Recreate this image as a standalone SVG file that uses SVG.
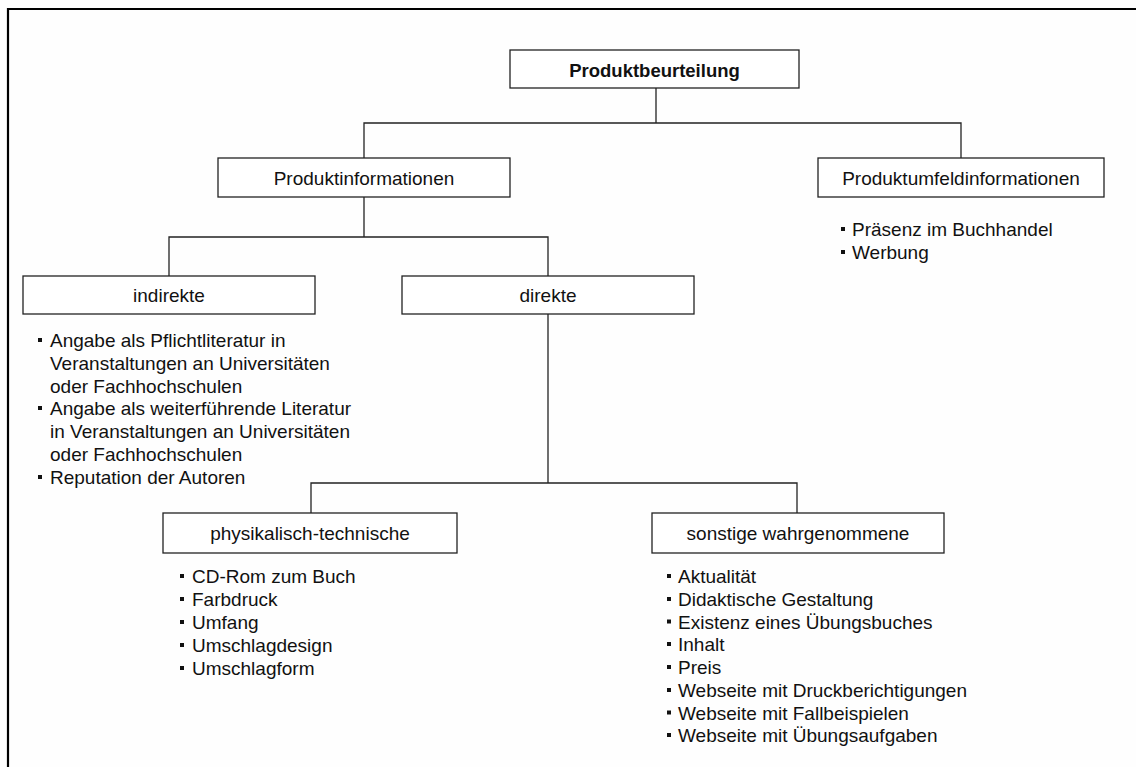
<svg xmlns="http://www.w3.org/2000/svg" width="1136" height="767" viewBox="0 0 1136 767">
<style>
.box{fill:#fff;stroke:#222;stroke-width:1.3}
.lbl{font-family:"Liberation Sans",Arial,sans-serif;font-size:19px;fill:#111;text-anchor:middle}
.b{font-weight:bold;font-size:18.5px}
.it{font-family:"Liberation Sans",Arial,sans-serif;font-size:19px;fill:#111}
.con{fill:none;stroke:#222;stroke-width:1.3}
.dot{fill:#111}
</style>
<rect x="0" y="0" width="1136" height="767" fill="#fefefe"/>
<path d="M8 767 V9 H1136" fill="none" stroke="#000" stroke-width="2.2"/>
<g id="connectors">
<path class="con" d="M656 88 V123 M364 158 V123 H961 V158"/>
<path class="con" d="M364 197 V237 M169 276 V237 H548 V276"/>
<path class="con" d="M548 314 V483 M311 513 V483 H797 V513"/>
</g>
<g id="n-produktbeurteilung">
<rect class="box" x="510" y="50" width="289" height="38"/>
<text class="lbl b" x="654.5" y="77">Produktbeurteilung</text>
</g>
<g id="n-produktinformationen">
<rect class="box" x="218" y="158" width="292" height="39"/>
<text class="lbl" x="364" y="185">Produktinformationen</text>
</g>
<g id="n-produktumfeld">
<rect class="box" x="818" y="158" width="286" height="39"/>
<text class="lbl" x="961" y="185">Produktumfeldinformationen</text>
<rect class="dot" x="841" y="227" width="4" height="4"/>
<rect class="dot" x="841" y="250" width="4" height="4"/>
<text class="it" x="852" y="236">Präsenz im Buchhandel</text>
<text class="it" x="852" y="259">Werbung</text>
</g>
<g id="n-indirekte">
<rect class="box" x="23" y="276" width="292" height="38"/>
<text class="lbl" x="169" y="302">indirekte</text>
<rect class="dot" x="38" y="338" width="4" height="4"/>
<rect class="dot" x="38" y="406" width="4" height="4"/>
<rect class="dot" x="38" y="475" width="4" height="4"/>
<text class="it" x="50" y="347">Angabe als Pflichtliteratur in</text>
<text class="it" x="50" y="370">Veranstaltungen an Universitäten</text>
<text class="it" x="50" y="392.5">oder Fachhochschulen</text>
<text class="it" x="50" y="415">Angabe als weiterführende Literatur</text>
<text class="it" x="50" y="438">in Veranstaltungen an Universitäten</text>
<text class="it" x="50" y="461">oder Fachhochschulen</text>
<text class="it" x="50" y="484">Reputation der Autoren</text>
</g>
<g id="n-direkte">
<rect class="box" x="402" y="276" width="292" height="38"/>
<text class="lbl" x="548" y="302">direkte</text>
</g>
<g id="n-physikalisch">
<rect class="box" x="163" y="513" width="294" height="40"/>
<text class="lbl" x="310" y="540">physikalisch-technische</text>
<rect class="dot" x="180" y="574" width="4" height="4"/>
<rect class="dot" x="180" y="597" width="4" height="4"/>
<rect class="dot" x="180" y="620" width="4" height="4"/>
<rect class="dot" x="180" y="643" width="4" height="4"/>
<rect class="dot" x="180" y="666" width="4" height="4"/>
<text class="it" x="192" y="583">CD-Rom zum Buch</text>
<text class="it" x="192" y="606">Farbdruck</text>
<text class="it" x="192" y="629">Umfang</text>
<text class="it" x="192" y="652">Umschlagdesign</text>
<text class="it" x="192" y="675">Umschlagform</text>
</g>
<g id="n-sonstige">
<rect class="box" x="652" y="513" width="292" height="40"/>
<text class="lbl" x="798" y="540">sonstige wahrgenommene</text>
<rect class="dot" x="667" y="574" width="4" height="4"/>
<rect class="dot" x="667" y="597" width="4" height="4"/>
<rect class="dot" x="667" y="619.5" width="4" height="4"/>
<rect class="dot" x="667" y="642" width="4" height="4"/>
<rect class="dot" x="667" y="665" width="4" height="4"/>
<rect class="dot" x="667" y="688" width="4" height="4"/>
<rect class="dot" x="667" y="710.5" width="4" height="4"/>
<rect class="dot" x="667" y="733" width="4" height="4"/>
<text class="it" x="678" y="583">Aktualität</text>
<text class="it" x="678" y="606">Didaktische Gestaltung</text>
<text class="it" x="678" y="628.5">Existenz eines Übungsbuches</text>
<text class="it" x="678" y="651">Inhalt</text>
<text class="it" x="678" y="674">Preis</text>
<text class="it" x="678" y="697">Webseite mit Druckberichtigungen</text>
<text class="it" x="678" y="719.5">Webseite mit Fallbeispielen</text>
<text class="it" x="678" y="742">Webseite mit Übungsaufgaben</text>
</g>
</svg>
